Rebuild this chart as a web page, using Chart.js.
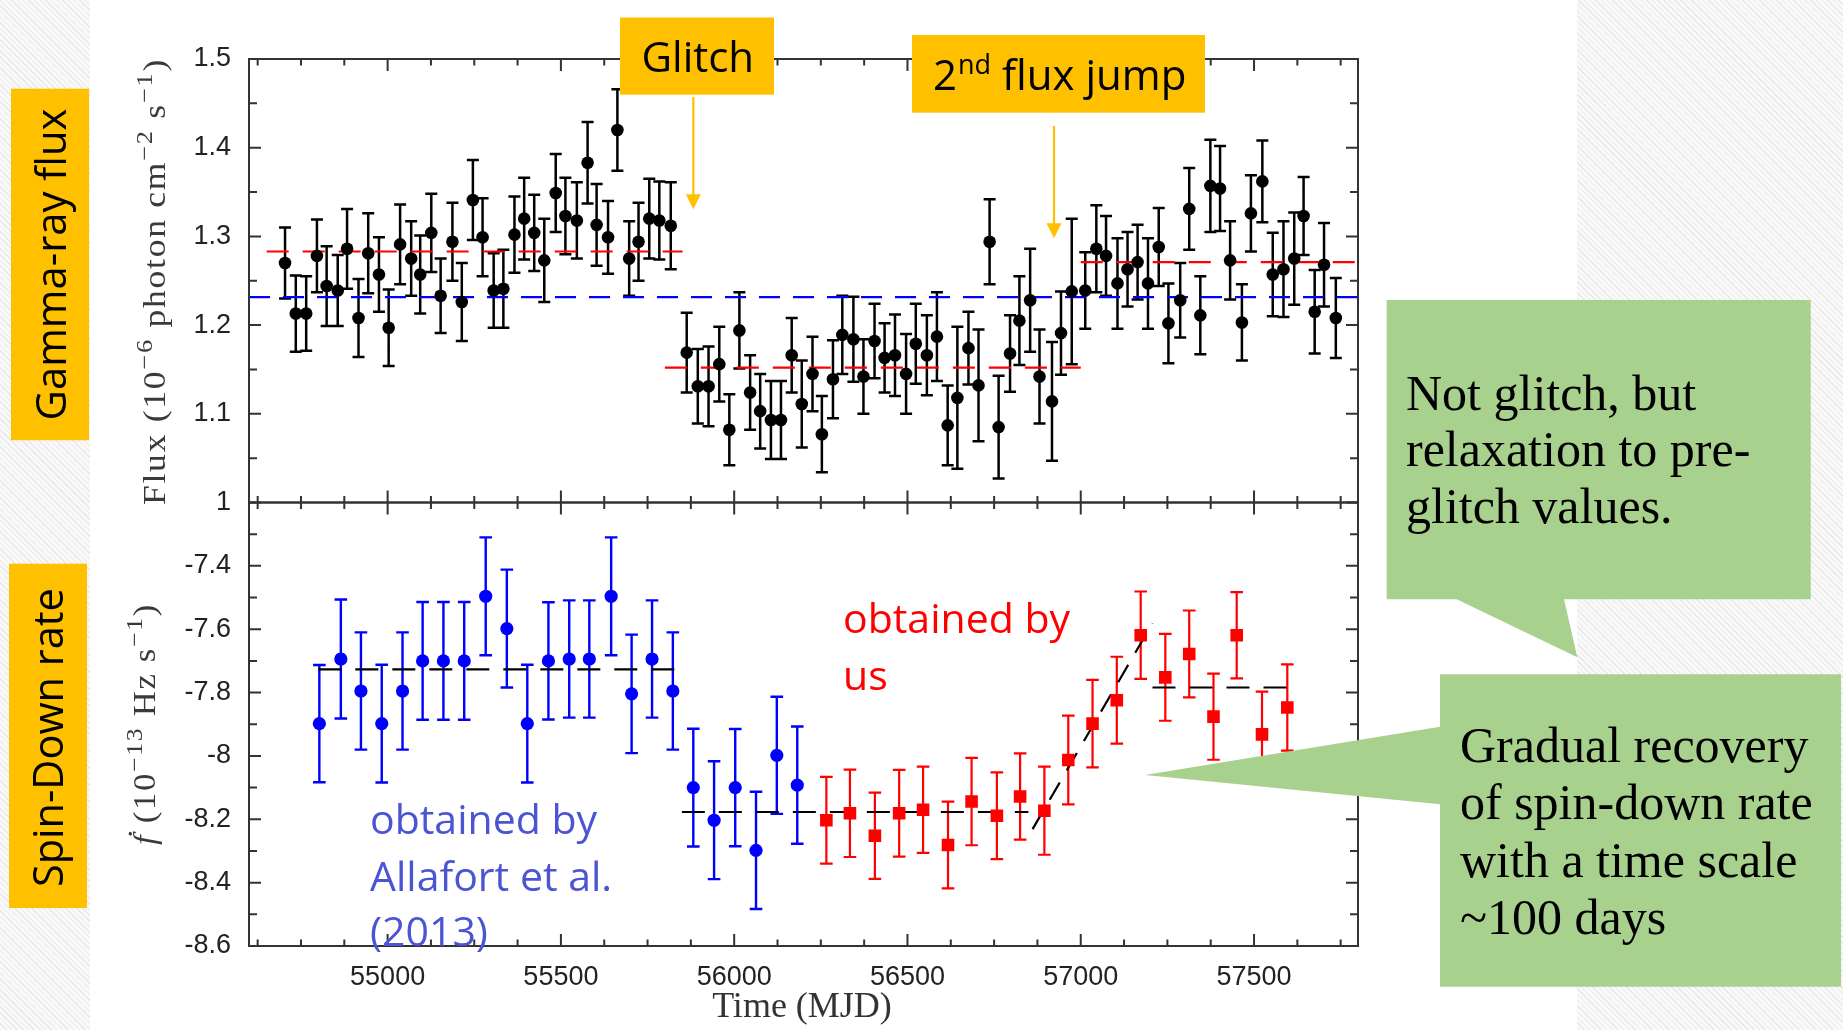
<!DOCTYPE html>
<html><head><meta charset="utf-8">
<script src="https://cdn.jsdelivr.net/npm/chart.js@4.4.1/dist/chart.umd.min.js"></script>
<style>
html,body{margin:0;padding:0;}
body{width:1843px;height:1030px;overflow:hidden;position:relative;
 background:repeating-linear-gradient(45deg,#e8e8e8 0px,#e8e8e8 1px,#f9f9f9 1px,#f9f9f9 4px);}
#white{position:absolute;left:90px;top:0;width:1487px;height:1030px;background:#fff;}
#c{position:absolute;left:0;top:0;}
</style></head><body>
<div id="white"></div>
<canvas id="c" width="1843" height="1030"></canvas>
<script>
// ---------------- data ----------------
const fluxMJD = [54704,54735,54765,54796,54824,54856,54883,54916,54944,54975,55003,55036,55068,55094,55126,55153,55187,55214,55246,55274,55306,55334,55366,55394,55423,55452,55485,55513,55546,55577,55603,55636,55663,55697,55724,55755,55784,55817,
55863,55895,55926,55957,55986,56015,56046,56075,56106,56135,56166,56195,56226,56253,56285,56312,56344,56373,56405,56434,56464,56496,56524,56556,56585,56616,56644,56676,56705,56737,56763,56796,56823,56854,56881,56917,56943,56974,57013,57045,57073,57106,
57135,57164,57194,57225,57253,57287,57313,57345,57374,57402,57431,57465,57491,57524,57554,57585,57616,57643,57675,57702,57736];
const fluxVal = [1.270,1.213,1.213,1.278,1.244,1.239,1.286,1.208,1.281,1.257,1.197,1.291,1.275,1.257,1.304,1.233,1.294,1.226,1.341,1.299,1.239,1.241,1.302,1.320,1.304,1.273,1.349,1.323,1.318,1.383,1.313,1.299,1.420,1.275,1.294,1.320,1.318,1.312,
1.169,1.131,1.131,1.156,1.082,1.194,1.124,1.103,1.093,1.093,1.166,1.111,1.145,1.077,1.139,1.189,1.184,1.142,1.182,1.163,1.166,1.145,1.179,1.166,1.187,1.087,1.118,1.174,1.132,1.294,1.085,1.168,1.205,1.228,1.142,1.114,1.191,1.238,1.239,1.286,1.278,1.247,
1.263,1.271,1.247,1.288,1.202,1.228,1.331,1.211,1.357,1.354,1.273,1.203,1.326,1.362,1.257,1.263,1.275,1.323,1.215,1.268,1.208];
const fluxErr = [0.040,0.043,0.042,0.041,0.045,0.040,0.045,0.044,0.045,0.042,0.043,0.045,0.042,0.044,0.044,0.042,0.044,0.044,0.045,0.044,0.042,0.044,0.043,0.046,0.043,0.047,0.044,0.043,0.043,0.046,0.046,0.041,0.046,0.042,0.044,0.045,0.044,0.049,
0.045,0.042,0.045,0.042,0.040,0.043,0.042,0.042,0.044,0.044,0.042,0.049,0.042,0.043,0.044,0.044,0.048,0.042,0.042,0.039,0.046,0.045,0.045,0.045,0.050,0.045,0.080,0.041,0.063,0.048,0.058,0.043,0.050,0.058,0.053,0.067,0.047,0.082,0.043,0.049,0.045,0.051,
0.042,0.042,0.051,0.044,0.045,0.042,0.046,0.044,0.052,0.048,0.044,0.043,0.043,0.046,0.047,0.054,0.052,0.044,0.047,0.047,0.045];

const blueMJD = [54803,54865,54923,54983,55043,55101,55161,55221,55283,55344,55403,55464,55524,55582,55645,55704,55763,55823,55882,55942,56003,56063,56123,56182];
const blueVal = [-7.898,-7.694,-7.795,-7.898,-7.795,-7.700,-7.700,-7.700,-7.496,-7.598,-7.898,-7.700,-7.694,-7.694,-7.496,-7.804,-7.694,-7.795,-8.100,-8.203,-8.100,-8.298,-7.998,-8.092];
const blueErr = [0.185,0.188,0.185,0.186,0.185,0.186,0.186,0.186,0.186,0.186,0.186,0.185,0.185,0.185,0.186,0.187,0.185,0.185,0.186,0.186,0.185,0.185,0.185,0.185];

const redMJD = [56266,56334,56406,56476,56545,56617,56685,56758,56825,56895,56964,57034,57104,57173,57244,57313,57383,57450,57523,57596];
const redVal = [-8.203,-8.181,-8.252,-8.181,-8.170,-8.281,-8.144,-8.189,-8.128,-8.173,-8.013,-7.898,-7.824,-7.619,-7.752,-7.678,-7.876,-7.619,-7.932,-7.847];
const redErr = [0.137,0.138,0.136,0.137,0.136,0.137,0.138,0.137,0.136,0.139,0.140,0.138,0.137,0.138,0.137,0.137,0.136,0.136,0.135,0.136];

// reference levels
const fluxAllSpan = [54600, 57800];
const fluxAllMean = 1.2315;
const fluxSegSpans = [[54651, 55851], [55800, 57000], [57000, 57800]];
const fluxSegMeans = [1.283, 1.152, 1.271];
const fdotSegSpans = [[54800, 55830], [55849, 56849], [57207, 57596]];
const fdotSegMeans = [-7.727, -8.177, -7.784];
const fdotRampMJD = [56861, 57207];
const fdotRampVal = [-8.231, -7.581];

// ticks
const xMajorTicks = [55000, 55500, 56000, 56500, 57000, 57500];
const xTickLabels = ['55000', '55500', '56000', '56500', '57000', '57500'];
const xMinorTicks = [54625,54750,54875,55125,55250,55375,55625,55750,55875,56125,56250,56375,56625,56750,56875,57125,57250,57375,57625,57750];
const fluxTickValues = [1, 1.1, 1.2, 1.3, 1.4, 1.5];
const fluxTickLabels = ['1', '1.1', '1.2', '1.3', '1.4', '1.5'];
const fluxMinorTicks = [1.05, 1.15, 1.25, 1.35, 1.45];
const fdotTickValues = [-8.6, -8.4, -8.2, -8.0, -7.8, -7.6, -7.4];
const fdotTickLabels = ['-8.6', '-8.4', '-8.2', '-8', '-7.8', '-7.6', '-7.4'];
const fdotMinorTicks = [-8.5, -8.3, -8.1, -7.9, -7.7, -7.5, -7.3];

// ---------------- datasets ----------------
const pts = (xs, ys) => xs.map((x, i) => ({x: x, y: ys[i]}));
const seg = (span, v) => [{x: span[0], y: v}, {x: span[1], y: v}];

const datasets = [
  {label:'flux', yAxisID:'yF', data: pts(fluxMJD, fluxVal), errors: fluxErr, errColor:'#000', errWidth:2.5, capHalf:6,
   pointStyle:'circle', pointRadius:6.3, backgroundColor:'#000', borderWidth:0},
  {label:'Allafort', yAxisID:'yS', data: pts(blueMJD, blueVal), errors: blueErr, errColor:'#0000ff', errWidth:2.4, capHalf:6.3,
   pointStyle:'circle', pointRadius:6.6, backgroundColor:'#0000ff', borderWidth:0},
  {label:'us', yAxisID:'yS', data: pts(redMJD, redVal), errors: redErr, errColor:'#ff0000', errWidth:2.2, capHalf:6.3,
   pointStyle:'rect', pointRadius:8.9, backgroundColor:'#ff0000', borderWidth:0},
];
const dashLine = (yAxisID, data, color, dash) => ({yAxisID, data, showLine:true, pointRadius:0, borderColor:color,
   borderWidth:2.2, borderDash:dash, backgroundColor:color, fill:false});
datasets.push(dashLine('yF', seg(fluxAllSpan, fluxAllMean), '#0000ff', [21, 13]));
fluxSegSpans.forEach((s, i) => datasets.push(dashLine('yF', seg(s, fluxSegMeans[i]), '#ff0000', [22, 14])));
fdotSegSpans.forEach((s, i) => datasets.push(dashLine('yS', seg(s, fdotSegMeans[i]), '#000', [23, 14])));
datasets.push(dashLine('yS', pts(fdotRampMJD, fdotRampVal), '#000', [20, 14]));

// ---------------- plugins ----------------
const errorBarPlugin = {
  id: 'errbars',
  beforeDatasetsDraw(chart) {
    const c = chart.ctx, xs = chart.scales.x;
    chart.data.datasets.forEach(ds => {
      if (!ds.errors) return;
      const ys = chart.scales[ds.yAxisID];
      c.save();
      c.strokeStyle = ds.errColor; c.lineWidth = ds.errWidth; c.lineCap = 'butt';
      c.beginPath();
      ds.data.forEach((p, i) => {
        const x = xs.getPixelForValue(p.x);
        const y1 = ys.getPixelForValue(p.y + ds.errors[i]);
        const y2 = ys.getPixelForValue(p.y - ds.errors[i]);
        c.moveTo(x, y1); c.lineTo(x, y2);
        c.moveTo(x - ds.capHalf, y1); c.lineTo(x + ds.capHalf, y1);
        c.moveTo(x - ds.capHalf, y2); c.lineTo(x + ds.capHalf, y2);
      });
      c.stroke();
      c.restore();
    });
  }
};

const framePlugin = {
  id: 'frame',
  afterDatasetsDraw(chart) {
    const c = chart.ctx, xs = chart.scales.x, yF = chart.scales.yF, yS = chart.scales.yS;
    const L = xs.left, R = xs.right;
    c.save();
    c.strokeStyle = '#333'; c.lineWidth = 2; c.lineCap = 'butt';
    [yF, yS].forEach(ys => c.strokeRect(L, ys.top, R - L, ys.bottom - ys.top));
    c.beginPath();
    const xt = (v, len) => {
      const px = xs.getPixelForValue(v);
      c.moveTo(px, yF.top); c.lineTo(px, yF.top + len);
      c.moveTo(px, yF.bottom - len); c.lineTo(px, yS.top + len);
      c.moveTo(px, yS.bottom); c.lineTo(px, yS.bottom - len);
    };
    xMajorTicks.forEach(v => xt(v, 12));
    xMinorTicks.forEach(v => xt(v, 6.5));
    const yt = (ys, v, len) => {
      const py = ys.getPixelForValue(v);
      c.moveTo(L, py); c.lineTo(L + len, py);
      c.moveTo(R, py); c.lineTo(R - len, py);
    };
    fluxTickValues.forEach(v => yt(yF, v, 12));
    fluxMinorTicks.forEach(v => yt(yF, v, 8));
    fdotTickValues.forEach(v => yt(yS, v, 12));
    fdotMinorTicks.forEach(v => yt(yS, v, 8));
    c.stroke();
    c.restore();
  }
};

function drawRich(c, segs, x, y, target, baseFont, supFont, rise, spacing) {
  c.save();
  c.translate(x, y); c.rotate(-Math.PI / 2);
  c.letterSpacing = spacing;
  let w = 0;
  const ms = segs.map(s => { c.font = s.sup ? supFont : (s.font || baseFont); const m = c.measureText(s.t).width; w += m; return m; });
  const k = target / w;
  c.scale(k, 1);
  let cx = -w / 2;
  c.textBaseline = 'alphabetic'; c.textAlign = 'left';
  segs.forEach((s, i) => { c.font = s.sup ? supFont : (s.font || baseFont); c.fillText(s.t, cx, s.sup ? -rise : 0); cx += ms[i]; });
  c.restore();
}

const annotationPlugin = {
  id: 'annot',
  afterDraw(chart) {
    const c = chart.ctx;
    c.save();
    // axis titles
    c.fillStyle = '#3a3a3a';
    drawRich(c, [{t:'Flux (10'}, {t:'\u22126', sup:true}, {t:' photon cm'}, {t:'\u22122', sup:true}, {t:' s'}, {t:'\u22121', sup:true}, {t:')'}],
      165, 281.5, 447, '31px "Liberation Serif"', '23px "Liberation Serif"', 13, '1.5px');
    drawRich(c, [{t:'\u1E1F', font:'italic 31px "Liberation Serif"'}, {t:' (10'}, {t:'\u221213', sup:true}, {t:' Hz s'}, {t:'\u22121', sup:true}, {t:')'}],
      155, 724, 242, '31px "Liberation Serif"', '23px "Liberation Serif"', 13, '1.5px');
    c.fillStyle = '#333';
    c.font = '36px "Liberation Serif"'; c.textAlign = 'center'; c.textBaseline = 'middle';
    c.fillText('Time (MJD)', 802, 1008);

    // left yellow labels
    c.fillStyle = '#ffc000';
    c.fillRect(11, 88.7, 78, 351.5);
    c.fillRect(9, 563.7, 78, 344.3);
    c.fillStyle = '#000';
    c.font = '42px "Open Sans"'; c.textAlign = 'center'; c.textBaseline = 'alphabetic';
    c.save(); c.translate(66, 264.5); c.rotate(-Math.PI / 2); c.fillText('Gamma-ray flux', 0, 0, 312); c.restore();
    c.save(); c.translate(63, 737.6); c.rotate(-Math.PI / 2); c.fillText('Spin-Down rate', 0, 0, 299); c.restore();

    // yellow boxes on top
    c.fillStyle = '#ffc000';
    c.fillRect(620, 17.5, 154, 77.2);
    c.fillRect(912, 35, 293, 77.7);
    c.fillStyle = '#000'; c.textAlign = 'left';
    c.font = '42px "Open Sans"';
    c.fillText('Glitch', 641.5, 71.7);
    c.fillText('2', 933, 90);
    let xx = 933 + c.measureText('2').width;
    c.font = '27px "Open Sans"';
    c.fillText('nd', xx + 1, 74);
    xx += c.measureText('nd').width + 1;
    c.font = '42px "Open Sans"';
    c.fillText(' flux jump', xx, 90);

    // arrows
    c.strokeStyle = '#ffc000'; c.fillStyle = '#ffc000'; c.lineWidth = 2.2;
    const arrow = (x, y0, y1) => {
      c.beginPath(); c.moveTo(x, y0); c.lineTo(x, y1 - 13); c.stroke();
      c.beginPath(); c.moveTo(x - 7.5, y1 - 15); c.lineTo(x + 7.5, y1 - 15); c.lineTo(x, y1); c.closePath(); c.fill();
    };
    arrow(693.3, 97, 209.3);
    arrow(1054, 126, 238.3);

    // colored annotation texts
    c.font = '41px "Open Sans"'; c.textAlign = 'left'; c.textBaseline = 'alphabetic';
    c.fillStyle = '#4b55d4';
    c.fillText('obtained by', 370, 834);
    c.fillText('Allafort et al.', 370, 891);
    c.fillText('(2013)', 370, 946);
    c.fillStyle = '#ff0000';
    c.fillText('obtained by', 843, 633);
    c.fillText('us', 843, 690);

    // green callouts
    c.fillStyle = '#a9d18e';
    c.beginPath();
    c.moveTo(1386.7, 300); c.lineTo(1810.7, 300); c.lineTo(1810.7, 599.3); c.lineTo(1564, 599.3);
    c.lineTo(1577.3, 657.3); c.lineTo(1456.7, 599.3); c.lineTo(1386.7, 599.3); c.closePath(); c.fill();
    c.beginPath();
    c.moveTo(1440, 674.3); c.lineTo(1841, 674.3); c.lineTo(1841, 986.7); c.lineTo(1440, 986.7);
    c.lineTo(1440, 804.3); c.lineTo(1145, 775); c.lineTo(1440, 726.7); c.closePath(); c.fill();
    c.fillStyle = '#000'; c.font = '50px "Liberation Serif"';
    c.fillText('Not glitch, but', 1406, 409.5);
    c.fillText('relaxation to pre-', 1406, 466);
    c.fillText('glitch values.', 1406, 522.5);
    c.fillText('Gradual recovery', 1460, 761.7);
    c.fillText('of spin-down rate', 1460, 819);
    c.fillText('with a time scale', 1460, 876.7);
    c.fillText('~100 days', 1460, 934);
    c.restore();
  }
};

// ---------------- chart ----------------
const tickFont = {family: 'Liberation Sans', size: 27};
new Chart(document.getElementById('c'), {
  type: 'scatter',
  data: {datasets},
  options: {
    responsive: false, animation: false, devicePixelRatio: 1,
    layout: {padding: {left: 0, right: 485, top: 59, bottom: 0}},
    plugins: {legend: {display: false}, tooltip: {enabled: false}},
    elements: {line: {tension: 0}},
    scales: {
      x: {
        type: 'linear', position: 'bottom', min: 54600, max: 57800,
        afterBuildTicks: s => { s.ticks = xMajorTicks.map(v => ({value: v})); },
        afterFit: s => { s.height = 84; },
        grid: {display: false, drawTicks: false}, border: {display: false},
        ticks: {callback: (v, i) => xTickLabels[i], font: tickFont, color: '#222', padding: 15, maxRotation: 0, autoSkip: false}
      },
      yF: {
        type: 'linear', position: 'left', stack: 'panels', stackWeight: 1, weight: 2, min: 1.0, max: 1.5,
        afterBuildTicks: s => { s.ticks = fluxTickValues.map(v => ({value: v})); },
        afterFit: s => { s.width = 249; },
        grid: {display: false, drawTicks: false}, border: {display: false},
        ticks: {callback: (v, i) => fluxTickLabels[i], font: tickFont, color: '#222', padding: 18, autoSkip: false}
      },
      yS: {
        type: 'linear', position: 'left', stack: 'panels', stackWeight: 1, weight: 1, min: -8.6, max: -7.2,
        afterBuildTicks: s => { s.ticks = fdotTickValues.map(v => ({value: v})); },
        afterFit: s => { s.width = 249; },
        grid: {display: false, drawTicks: false}, border: {display: false},
        ticks: {callback: (v, i) => fdotTickLabels[i], font: tickFont, color: '#222', padding: 18, autoSkip: false}
      }
    }
  },
  plugins: [errorBarPlugin, framePlugin, annotationPlugin]
});
</script>
</body></html>
